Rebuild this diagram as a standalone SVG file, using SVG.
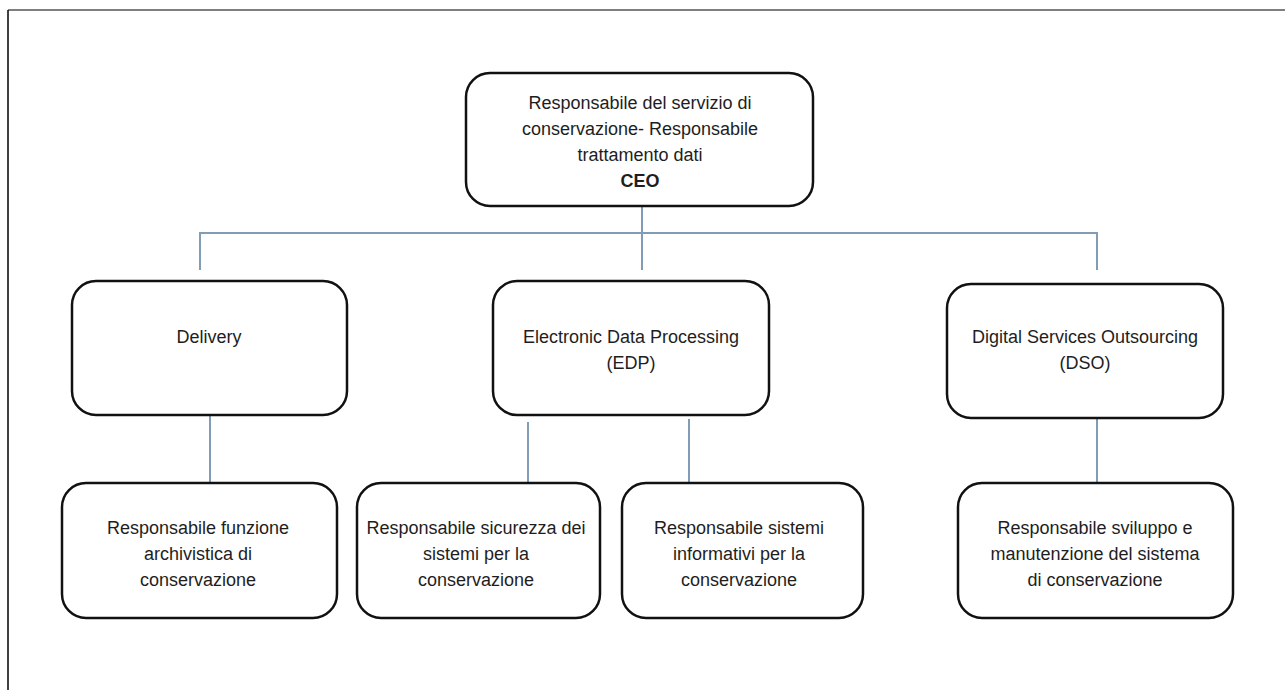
<svg xmlns="http://www.w3.org/2000/svg" width="1285" height="690" viewBox="0 0 1285 690">
<style>
.box{fill:#fff;stroke:#111;stroke-width:2.5}
.conn{stroke:#819cb5;stroke-width:2;fill:none}
text{font-family:"Liberation Sans",Arial,sans-serif;font-size:18px;fill:#1e1e1e;text-anchor:middle}
.b{font-weight:bold}
</style>
<rect width="1285" height="690" fill="#fff"/>
<g id="frame">
<line x1="8" y1="10" x2="1285" y2="10" stroke="#7f7f7f" stroke-width="2"/>
<line x1="8" y1="10" x2="8" y2="690" stroke="#000" stroke-width="1.5"/>
</g>
<g id="connectors">
<path class="conn" d="M200 270V233H1097V270M642 206V270"/>
<path class="conn" d="M210 416V482"/>
<path class="conn" d="M528 422V483"/>
<path class="conn" d="M689 419V483"/>
<path class="conn" d="M1097 419V483"/>
</g>
<g id="ceo">
<rect class="box" x="466" y="73" width="347" height="133" rx="24"/>
<text x="640" y="109">Responsabile del servizio di</text>
<text x="640" y="135">conservazione- Responsabile</text>
<text x="640" y="161">trattamento dati</text>
<text x="640" y="187" class="b">CEO</text>
</g>
<g id="delivery">
<rect class="box" x="72" y="281" width="275" height="134" rx="24"/>
<text x="209" y="343">Delivery</text>
</g>
<g id="edp">
<rect class="box" x="493" y="281" width="276" height="134" rx="24"/>
<text x="631" y="343">Electronic Data Processing</text>
<text x="631" y="369">(EDP)</text>
</g>
<g id="dso">
<rect class="box" x="947" y="284" width="276" height="134" rx="24"/>
<text x="1085" y="343">Digital Services Outsourcing</text>
<text x="1085" y="369">(DSO)</text>
</g>
<g id="archivistica">
<rect class="box" x="62" y="483" width="275" height="135" rx="24"/>
<text x="198" y="534">Responsabile funzione</text>
<text x="198" y="560">archivistica di</text>
<text x="198" y="586">conservazione</text>
</g>
<g id="sicurezza">
<rect class="box" x="357" y="483" width="243" height="135" rx="24"/>
<text x="476" y="534">Responsabile sicurezza dei</text>
<text x="476" y="560">sistemi per la</text>
<text x="476" y="586">conservazione</text>
</g>
<g id="sistemi">
<rect class="box" x="622" y="483" width="241" height="135" rx="24"/>
<text x="739" y="534">Responsabile sistemi</text>
<text x="739" y="560">informativi per la</text>
<text x="739" y="586">conservazione</text>
</g>
<g id="sviluppo">
<rect class="box" x="958" y="483" width="275" height="135" rx="24"/>
<text x="1095" y="534">Responsabile sviluppo e</text>
<text x="1095" y="560">manutenzione del sistema</text>
<text x="1095" y="586">di conservazione</text>
</g>
</svg>
